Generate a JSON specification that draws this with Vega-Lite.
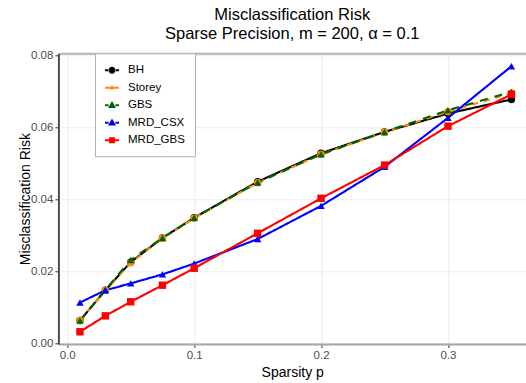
{
  "$schema": "https://vega.github.io/schema/vega-lite/v6.json",
  "width": 467.6,
  "height": 290.7,
  "autosize": {"type": "none"},
  "padding": {"left": 58.4, "top": 53.3, "right": 0, "bottom": 39},
  "config": {
    "view": {"stroke": null},
    "font": "Liberation Sans",
    "axis": {
      "labelFont": "Liberation Sans",
      "labelFontSize": 11.5,
      "labelColor": "#4d4d4d",
      "tickColor": "#333333",
      "tickSize": 3.5,
      "tickWidth": 1,
      "gridColor": "#ebebeb",
      "gridWidth": 1,
      "titleFont": "Liberation Sans",
      "titleFontSize": 14,
      "titleFontWeight": "normal",
      "titleColor": "#000000",
      "labelPadding": 2
    },
    "legend": {
      "labelFont": "Liberation Sans",
      "labelFontSize": 11.5,
      "labelColor": "#000000"
    }
  },
  "title": {
    "text": ["Misclassification Risk", "Sparse Precision, m = 200, α = 0.1"],
    "fontSize": 16.5,
    "fontWeight": "normal",
    "font": "Liberation Sans",
    "color": "#000000",
    "anchor": "middle",
    "lineHeight": 18.8,
    "offset": 7
  },
  "data": {
    "values": [
      {"p": 0.01, "method": "BH", "risk": 0.0064},
      {"p": 0.03, "method": "BH", "risk": 0.0148},
      {"p": 0.05, "method": "BH", "risk": 0.0226},
      {"p": 0.075, "method": "BH", "risk": 0.0293},
      {"p": 0.1, "method": "BH", "risk": 0.0349},
      {"p": 0.15, "method": "BH", "risk": 0.0449},
      {"p": 0.2, "method": "BH", "risk": 0.0528},
      {"p": 0.25, "method": "BH", "risk": 0.0587},
      {"p": 0.3, "method": "BH", "risk": 0.0638},
      {"p": 0.35, "method": "BH", "risk": 0.0677},
      {"p": 0.01, "method": "Storey", "risk": 0.0064},
      {"p": 0.03, "method": "Storey", "risk": 0.0148},
      {"p": 0.05, "method": "Storey", "risk": 0.0224},
      {"p": 0.075, "method": "Storey", "risk": 0.0292},
      {"p": 0.1, "method": "Storey", "risk": 0.0348},
      {"p": 0.15, "method": "Storey", "risk": 0.0446},
      {"p": 0.2, "method": "Storey", "risk": 0.0525},
      {"p": 0.25, "method": "Storey", "risk": 0.0586},
      {"p": 0.3, "method": "Storey", "risk": 0.0643},
      {"p": 0.35, "method": "Storey", "risk": 0.0695},
      {"p": 0.01, "method": "GBS", "risk": 0.0064},
      {"p": 0.03, "method": "GBS", "risk": 0.0149},
      {"p": 0.05, "method": "GBS", "risk": 0.0232},
      {"p": 0.075, "method": "GBS", "risk": 0.0293},
      {"p": 0.1, "method": "GBS", "risk": 0.0349},
      {"p": 0.15, "method": "GBS", "risk": 0.0447},
      {"p": 0.2, "method": "GBS", "risk": 0.0525},
      {"p": 0.25, "method": "GBS", "risk": 0.0587},
      {"p": 0.3, "method": "GBS", "risk": 0.0647},
      {"p": 0.35, "method": "GBS", "risk": 0.0698},
      {"p": 0.01, "method": "MRD_CSX", "risk": 0.0114},
      {"p": 0.03, "method": "MRD_CSX", "risk": 0.0148},
      {"p": 0.05, "method": "MRD_CSX", "risk": 0.0167},
      {"p": 0.075, "method": "MRD_CSX", "risk": 0.0192},
      {"p": 0.1, "method": "MRD_CSX", "risk": 0.0222},
      {"p": 0.15, "method": "MRD_CSX", "risk": 0.029},
      {"p": 0.2, "method": "MRD_CSX", "risk": 0.0382},
      {"p": 0.25, "method": "MRD_CSX", "risk": 0.049},
      {"p": 0.3, "method": "MRD_CSX", "risk": 0.0626},
      {"p": 0.35, "method": "MRD_CSX", "risk": 0.0769},
      {"p": 0.01, "method": "MRD_GBS", "risk": 0.0033},
      {"p": 0.03, "method": "MRD_GBS", "risk": 0.0077},
      {"p": 0.05, "method": "MRD_GBS", "risk": 0.0116},
      {"p": 0.075, "method": "MRD_GBS", "risk": 0.0162},
      {"p": 0.1, "method": "MRD_GBS", "risk": 0.0209},
      {"p": 0.15, "method": "MRD_GBS", "risk": 0.0306},
      {"p": 0.2, "method": "MRD_GBS", "risk": 0.0403},
      {"p": 0.25, "method": "MRD_GBS", "risk": 0.0495},
      {"p": 0.3, "method": "MRD_GBS", "risk": 0.0603},
      {"p": 0.35, "method": "MRD_GBS", "risk": 0.0691}
    ]
  },
  "resolve": {"scale": {"shape": "independent", "fill": "independent"}, "axis": {"x": "independent"}},
  "layer": [
    {
      "mark": {"type": "line", "strokeWidth": 2.1},
      "encoding": {
        "x": {
          "field": "p", "type": "quantitative",
          "scale": {"domain": [-0.007, 0.3615], "nice": false, "zero": false},
          "axis": {"orient": "bottom", "values": [0, 0.1, 0.2, 0.3], "format": ".1f", "title": "Sparsity p", "domainColor": "#a6a6a6", "domainWidth": 2, "grid": true}
        },
        "y": {
          "field": "risk", "type": "quantitative",
          "scale": {"domain": [-0.0001, 0.0805], "nice": false, "zero": false},
          "axis": {"values": [0, 0.02, 0.04, 0.06, 0.08], "format": ".2f", "title": "Misclassification Risk", "domainColor": "#4d4d4d", "domainWidth": 2, "grid": true, "titlePadding": -2}
        },
        "color": {
          "field": "method", "type": "nominal",
          "scale": {"domain": ["BH", "Storey", "GBS", "MRD_CSX", "MRD_GBS"], "range": ["#000000", "#ff8c00", "#006400", "#0000ff", "#ff0000"]},
          "legend": null
        },
        "strokeDash": {
          "field": "method", "type": "nominal",
          "scale": {"domain": ["BH", "Storey", "GBS", "MRD_CSX", "MRD_GBS"], "range": [[1, 0], [6, 6], [8, 7], [1, 0], [1, 0]]},
          "legend": null
        }
      }
    },
    {
      "mark": {"type": "point", "filled": true, "opacity": 1, "size": 55},
      "encoding": {
        "x": {
          "field": "p", "type": "quantitative",
          "axis": {"orient": "top", "labels": false, "ticks": false, "grid": false, "title": null, "domainColor": "#b3b3b3", "domainWidth": 2}
        },
        "y": {"field": "risk", "type": "quantitative"},
        "color": {"field": "method", "type": "nominal", "legend": null},
        "shape": {
          "field": "method", "type": "nominal",
          "scale": {"domain": ["BH", "Storey", "GBS", "MRD_CSX", "MRD_GBS"], "range": ["circle", "circle", "triangle-up", "triangle-up", "square"]},
          "legend": null
        }
      }
    },
    {
      "mark": {"type": "point", "filled": true, "opacity": 0},
      "encoding": {
        "x": {"field": "p", "type": "quantitative", "axis": null},
        "y": {"field": "risk", "type": "quantitative"},
        "fill": {
          "field": "method", "type": "nominal",
          "scale": {"domain": ["BH", "Storey", "GBS", "MRD_CSX", "MRD_GBS"], "range": ["#000000", "#ff8c00", "#006400", "#0000ff", "#ff0000"]},
          "legend": {
            "title": null,
            "orient": "none",
            "legendX": 36.6,
            "legendY": 0,
            "padding": 10,
            "symbolSize": 196,
            "symbolStrokeWidth": 0,
            "labelOffset": 9,
            "rowPadding": 4.5,
            "strokeColor": "#b3b3b3",
            "fillColor": "#ffffff",
            "symbolOpacity": 1,
            "encode": {"symbols": {"update": {"opacity": {"value": 1}}}}
          }
        },
        "shape": {
          "field": "method", "type": "nominal",
          "scale": {
            "domain": ["BH", "Storey", "GBS", "MRD_CSX", "MRD_GBS"],
            "range": [
              "M-1,-0.14H-0.4V0.14H-1Z M0.4,-0.14H1V0.14H0.4Z M-0.5,0A0.5,0.5 0 1,0 0.5,0A0.5,0.5 0 1,0 -0.5,0Z",
              "M-1,-0.14H-0.25V0.14H-1Z M0.25,-0.14H1V0.14H0.25Z M-0.28,0A0.28,0.28 0 1,0 0.28,0A0.28,0.28 0 1,0 -0.28,0Z",
              "M-1,-0.14H-0.5V0.14H-1Z M0.5,-0.14H1V0.14H0.5Z M0,-0.6L0.58,0.4L-0.58,0.4Z",
              "M-1,-0.14H-0.5V0.14H-1Z M0.5,-0.14H1V0.14H0.5Z M0,-0.6L0.58,0.4L-0.58,0.4Z",
              "M-1,-0.14H-0.42V0.14H-1Z M0.42,-0.14H1V0.14H0.42Z M-0.42,-0.42H0.42V0.42H-0.42Z"
            ]
          },
          "legend": {
            "title": null,
            "orient": "none",
            "legendX": 36.6,
            "legendY": 0,
            "padding": 10,
            "symbolSize": 196,
            "symbolStrokeWidth": 0,
            "labelOffset": 9,
            "rowPadding": 4.5,
            "strokeColor": "#b3b3b3",
            "fillColor": "#ffffff",
            "symbolOpacity": 1,
            "encode": {"symbols": {"update": {"opacity": {"value": 1}}}}
          }
        }
      }
    }
  ]
}
